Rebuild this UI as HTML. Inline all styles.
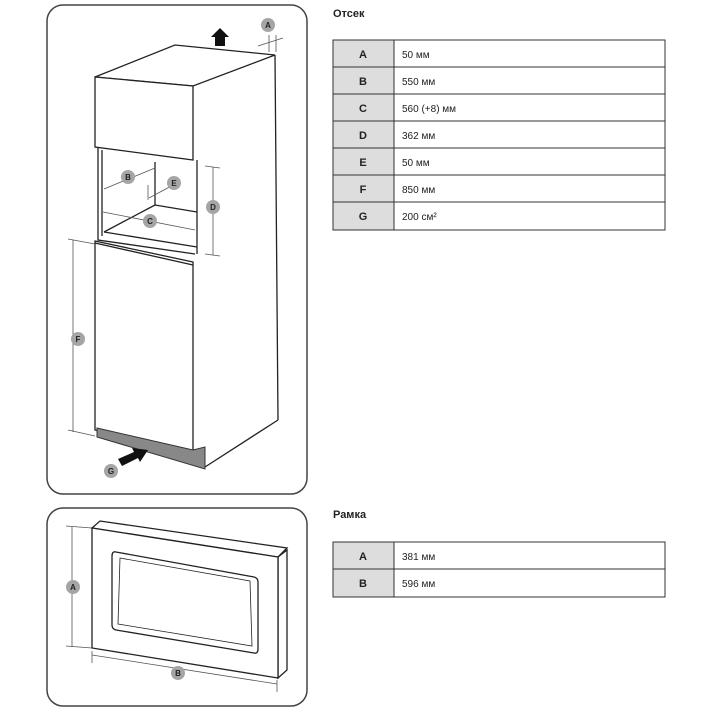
<!DOCTYPE html>
<html><head><meta charset="utf-8"><style>
body{margin:0;background:#fff;width:720px;height:720px;overflow:hidden;font-family:"Liberation Sans",sans-serif}
svg{position:absolute;left:0;top:0}
</style></head><body>
<svg width="720" height="720" viewBox="0 0 720 720" font-family="Liberation Sans, sans-serif">
<defs><g id="c"></g></defs>
<rect x="47" y="5" width="260" height="489" rx="16" fill="none" stroke="#444" stroke-width="1.5"/>
<rect x="47" y="508" width="260" height="198" rx="16" fill="none" stroke="#444" stroke-width="1.5"/>
<g stroke="#222" stroke-width="1.3" fill="none">
<!-- top box -->
<polygon points="95,77 175,45 275,55 193,86" fill="#fff"/>
<polygon points="95,77 193,86 193,160 95,147" fill="#fff"/>
<line x1="275" y1="55" x2="278" y2="420"/>
<!-- niche -->
<polyline points="98,148 98,240 195,254"/>
<polyline points="102,150 102,236"/>
<line x1="155" y1="162" x2="155" y2="205"/>
<line x1="155" y1="205" x2="197" y2="212"/>
<line x1="155" y1="205" x2="104" y2="232"/>
<line x1="104" y1="232" x2="197" y2="247"/>
<line x1="197" y1="160" x2="197" y2="254"/>
<!-- lower cabinet -->
<polygon points="95,241 193,262 193,452 95,430" fill="#fff"/>
<line x1="95" y1="243" x2="193" y2="265"/>
<line x1="205" y1="467" x2="278" y2="420"/>
</g>
<polygon points="97,428 193,450 205,447 205,469 97,437" fill="#888" stroke="#333" stroke-width="1"/>
<!-- dimension lines -->
<g stroke="#555" stroke-width="0.8" fill="none">
<line x1="213" y1="167" x2="213" y2="255"/><line x1="205" y1="166" x2="220" y2="168"/><line x1="205" y1="254" x2="220" y2="256"/>
<line x1="73" y1="240" x2="73" y2="432"/><line x1="68" y1="239" x2="95" y2="244"/><line x1="68" y1="430" x2="95" y2="436"/>
<line x1="104" y1="189" x2="155" y2="168"/>
<line x1="149" y1="198" x2="175" y2="184"/><line x1="148" y1="185" x2="148" y2="200"/>
<line x1="103" y1="212" x2="195" y2="230"/>
<line x1="269" y1="35" x2="269" y2="52"/><line x1="276" y1="35" x2="276" y2="52"/><line x1="258" y1="46" x2="283" y2="38"/>
<line x1="72" y1="527" x2="72" y2="647"/><line x1="66" y1="526" x2="92" y2="528"/><line x1="66" y1="646" x2="92" y2="648"/>
<line x1="92" y1="655" x2="277" y2="684"/><line x1="92" y1="651" x2="92" y2="663"/><line x1="277" y1="680" x2="277" y2="692"/>
</g>
<!-- arrows -->
<polygon points="220,28 229,37 225,37 225,46 215,46 215,37 211,37" fill="#111"/>
<polygon points="148,450 140,462 138,458 122,466 118,459 134,452 132,448" fill="#111"/>
<!-- frame -->
<g stroke="#222" stroke-width="1.3">
<polygon points="92,528 100,521 287,548 278,557" fill="#fff"/>
<polygon points="278,557 287,550 287,670 278,678" fill="#fff"/>
<polygon points="92,528 278,557 278,678 92,648" fill="#fff"/>
<path d="M116,552 L254,577 Q258,578 258,582 L258,649 Q258,654 254,653 L116,630 Q112,629 112,625 L112,556 Q112,551 116,552Z" fill="none"/>
<path d="M120,558 L250,581 L252,646 L118,624Z" fill="none" stroke-width="0.8"/>
</g>
<!-- labels -->
<g font-size="8" font-weight="bold" text-anchor="middle" fill="#222">
<circle cx="268" cy="25" r="7" fill="#a5a5a5"/><text x="268" y="28">A</text>
<circle cx="128" cy="177" r="7" fill="#a5a5a5"/><text x="128" y="180">B</text>
<circle cx="174" cy="183" r="7" fill="#a5a5a5"/><text x="174" y="186">E</text>
<circle cx="150" cy="221" r="7" fill="#a5a5a5"/><text x="150" y="224">C</text>
<circle cx="213" cy="207" r="7" fill="#a5a5a5"/><text x="213" y="210">D</text>
<circle cx="78" cy="339" r="7" fill="#a5a5a5"/><text x="78" y="342">F</text>
<circle cx="111" cy="471" r="7" fill="#a5a5a5"/><text x="111" y="474">G</text>
<circle cx="73" cy="587" r="7" fill="#a5a5a5"/><text x="73" y="590">A</text>
<circle cx="178" cy="673" r="7" fill="#a5a5a5"/><text x="178" y="676">B</text>
</g>
<!-- tables -->
<text x="333" y="17" font-size="11" font-weight="bold" fill="#222">Отсек</text>
<text x="333" y="518" font-size="11" font-weight="bold" fill="#222">Рамка</text>
<g stroke="#333" stroke-width="1">
<rect x="333" y="40" width="61" height="190" fill="#ddd"/>
<rect x="394" y="40" width="271" height="190" fill="#fff"/>
<line x1="333" y1="67" x2="665" y2="67"/><line x1="333" y1="94" x2="665" y2="94"/><line x1="333" y1="121" x2="665" y2="121"/><line x1="333" y1="148" x2="665" y2="148"/><line x1="333" y1="175" x2="665" y2="175"/><line x1="333" y1="202" x2="665" y2="202"/>
<rect x="333" y="542" width="61" height="55" fill="#ddd"/>
<rect x="394" y="542" width="271" height="55" fill="#fff"/>
<line x1="333" y1="569" x2="665" y2="569"/>
</g>
<g font-size="11" font-weight="bold" text-anchor="middle" fill="#222">
<text x="363" y="58">A</text><text x="363" y="85">B</text><text x="363" y="112">C</text><text x="363" y="139">D</text><text x="363" y="166">E</text><text x="363" y="193">F</text><text x="363" y="220">G</text>
<text x="363" y="560">A</text><text x="363" y="587">B</text>
</g>
<g font-size="10" fill="#222">
<text x="402" y="58">50 мм</text><text x="402" y="85">550 мм</text><text x="402" y="112">560 (+8) мм</text><text x="402" y="139">362 мм</text><text x="402" y="166">50 мм</text><text x="402" y="193">850 мм</text><text x="402" y="220">200 см²</text>
<text x="402" y="560">381 мм</text><text x="402" y="587">596 мм</text>
</g>
</svg>
</body></html>
